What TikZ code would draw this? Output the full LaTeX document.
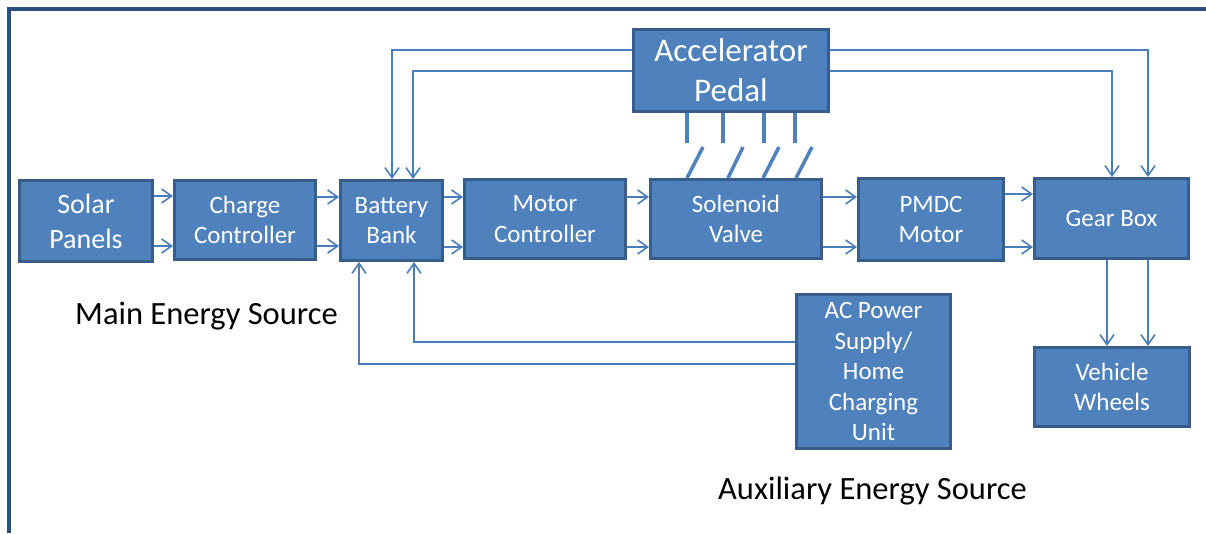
\documentclass[tikz,border=0pt]{standalone}
\usepackage{fontspec}
\setmainfont{Carlito}
\usetikzlibrary{arrows.meta}
\definecolor{boxfill}{HTML}{4F81BD}
\definecolor{boxline}{HTML}{385D8A}
\definecolor{conncol}{HTML}{4A7EBB}
\definecolor{framecol}{HTML}{2A5080}
\begin{document}
\begin{tikzpicture}[x=1pt,y=-1pt,
  blk/.style={draw=boxline, line width=3pt, fill=boxfill, text=white, align=center,
    inner sep=0pt, font=\fontsize{25}{30.5}\selectfont},
  arr/.style={draw=conncol, line width=1.6pt,
    -{Straight Barb[length=10pt,width=14pt,line width=1.6pt]}},
  swline/.style={draw=boxfill, line width=4pt},
  lbl/.style={text=black, inner sep=0pt, font=\fontsize{32.5}{39}\selectfont}
]
\useasboundingbox (0,0) rectangle (1206,533);
\fill[white] (0,0) rectangle (1206,533);
\draw[framecol, line width=3.5pt] (8.75,533) -- (8.75,8.75) -- (1206,8.75);

% boxes
\node[blk, minimum width=133pt, minimum height=81pt, font=\fontsize{28}{35}\selectfont]
  (sp) at (86,221) {Solar\\Panels};
\node[blk, minimum width=141pt, minimum height=79pt] (cc) at (245,220) {Charge\\Controller};
\node[blk, minimum width=102pt, minimum height=80pt] (bb) at (391.5,220.5) {Battery\\Bank};
\node[blk, minimum width=161pt, minimum height=79pt] (mc) at (545,219) {Motor\\Controller};
\node[blk, minimum width=171pt, minimum height=79pt] (sv) at (736,219) {Solenoid\\Valve};
\node[blk, minimum width=195pt, minimum height=82pt, font=\fontsize{33}{40}\selectfont]
  (ap) at (731,70.5) {Accelerator\\Pedal};
\node[blk, minimum width=145pt, minimum height=82pt] (pm) at (931,219.5) {PMDC\\Motor};
\node[blk, minimum width=154pt, minimum height=80pt] (gb) at (1111.5,218.5) {Gear Box};
\node[blk, minimum width=155pt, minimum height=79pt] (vw) at (1112,387) {Vehicle\\Wheels};
\node[blk, minimum width=154pt, minimum height=154pt] (ac) at (873.5,371.5)
  {AC Power\\Supply/\\Home\\Charging\\Unit};

% labels
\node[lbl] (mainlbl) at (206.5,316) {Main Energy Source};
\node[lbl] (auxlbl) at (872.5,491) {Auxiliary Energy Source};

% forward chain
\draw[arr] (sp.east |- 0,196) -- (cc.west |- 0,196);
\draw[arr] (sp.east |- 0,246) -- (cc.west |- 0,246);
\draw[arr] (cc.east |- 0,197) -- (bb.west |- 0,197);
\draw[arr] (cc.east |- 0,246) -- (bb.west |- 0,246);
\draw[arr] (bb.east |- 0,197) -- (mc.west |- 0,197);
\draw[arr] (bb.east |- 0,247) -- (mc.west |- 0,247);
\draw[arr] (mc.east |- 0,197) -- (sv.west |- 0,197);
\draw[arr] (mc.east |- 0,247) -- (sv.west |- 0,247);
\draw[arr] (sv.east |- 0,197) -- (pm.west |- 0,197);
\draw[arr] (sv.east |- 0,247) -- (pm.west |- 0,247);
\draw[arr] (pm.east |- 0,194) -- (gb.west |- 0,194);
\draw[arr] (pm.east |- 0,247) -- (gb.west |- 0,247);

% accelerator feedback
\draw[arr] (ap.west |- 0,50) -| (bb.north -| 392,0);
\draw[arr] (ap.west |- 0,71) -| (bb.north -| 413,0);
\draw[arr] (ap.east |- 0,50) -| (gb.north -| 1148,0);
\draw[arr] (ap.east |- 0,71) -| (gb.north -| 1112,0);

% gear box to wheels
\draw[arr] (gb.south -| 1107,0) -- (vw.north -| 1107,0);
\draw[arr] (gb.south -| 1148,0) -- (vw.north -| 1148,0);

% AC supply to battery
\draw[arr] (ac.west |- 0,342) -| (bb.south -| 414,0);
\draw[arr] (ac.west |- 0,364) -| (bb.south -| 359,0);

% switches
\coordinate (s1) at (687,143);
\coordinate (s2) at (723,143);
\coordinate (s3) at (764,143);
\coordinate (s4) at (795,143);
\draw[swline] (ap.south -| s1) -- (s1);
\draw[swline] (ap.south -| s2) -- (s2);
\draw[swline] (ap.south -| s3) -- (s3);
\draw[swline] (ap.south -| s4) -- (s4);
\draw[swline, line width=3.5pt] (sv.north -| 687,0) -- (703,147);
\draw[swline, line width=3.5pt] (sv.north -| 728,0) -- (743,147);
\draw[swline, line width=3.5pt] (sv.north -| 763,0) -- (779,147);
\draw[swline, line width=3.5pt] (sv.north -| 796,0) -- (812,147);
\end{tikzpicture}
\end{document}
